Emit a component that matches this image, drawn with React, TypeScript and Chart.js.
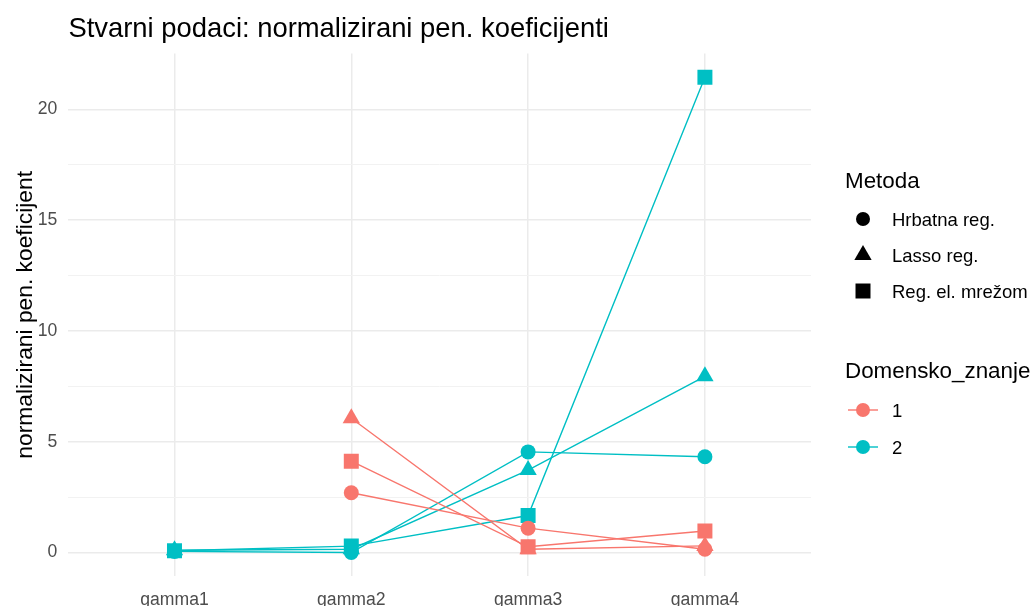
import React, { useEffect, useRef } from "react";
import { Chart, registerables } from "chart.js";

Chart.register(...registerables);

const categories = ["gamma1", "gamma2", "gamma3", "gamma4"];
const methodNames = ["Hrbatna reg.", "Lasso reg.", "Reg. el. mrežom"];
const domainNames = ["1", "2"];

const hrbatna1 = [null, 2.7, 1.1, 0.15];
const lasso1 = [null, 6.06, 0.15, 0.3];
const reg1 = [null, 4.12, 0.26, 0.97];
const hrbatna2 = [0.05, 0.0, 4.54, 4.32];
const lasso2 = [0.1, 0.15, 3.72, 7.95];
const reg2 = [0.08, 0.29, 1.67, 21.45];

const yTicks = [0, 5, 10, 15, 20];
const yMinorTicks = [2.5, 7.5, 12.5, 17.5];

const titleText = "Stvarni podaci: normalizirani pen. koeficijenti";
const yTitleText = "normalizirani pen. koeficijent";
const legendTitle1 = "Metoda";
const legendTitle2 = "Domensko_znanje";

const RED = "#F8766D";
const TEAL = "#00BFC4";
const FONT = "'Liberation Sans', Arial, sans-serif";

const pointStyles = ["circle", "triangle", "rect"];
const pointRadii = [7.5, 10, 10.6];

function drawShape(ctx: CanvasRenderingContext2D, style: string, x: number, y: number, r: number) {
  ctx.beginPath();
  if (style === "circle") {
    ctx.arc(x, y, r, 0, Math.PI * 2);
  } else if (style === "triangle") {
    ctx.moveTo(x, y - r);
    ctx.lineTo(x + r * Math.sin((2 * Math.PI) / 3), y - r * Math.cos((2 * Math.PI) / 3));
    ctx.lineTo(x + r * Math.sin((4 * Math.PI) / 3), y - r * Math.cos((4 * Math.PI) / 3));
    ctx.closePath();
  } else {
    const s = r * Math.SQRT1_2;
    ctx.rect(x - s, y - s, 2 * s, 2 * s);
  }
  ctx.fill();
}

const decorPlugin = {
  id: "decor",
  afterDraw(chart: any) {
    const ctx = chart.ctx as CanvasRenderingContext2D;
    const area = chart.chartArea;
    ctx.save();
    // Title
    ctx.fillStyle = "#000000";
    ctx.font = `27.4px ${FONT}`;
    ctx.textAlign = "left";
    ctx.textBaseline = "alphabetic";
    ctx.fillText(titleText, area.left, 37);

    // Y axis title
    ctx.save();
    ctx.translate(32, (area.top + area.bottom) / 2);
    ctx.rotate(-Math.PI / 2);
    ctx.font = `22.8px ${FONT}`;
    ctx.textAlign = "center";
    ctx.fillText(yTitleText, 0, 0);
    ctx.restore();

    // Legend 1: Metoda
    ctx.font = `22.4px ${FONT}`;
    ctx.textAlign = "left";
    ctx.fillStyle = "#000000";
    ctx.fillText(legendTitle1, 845, 188);
    const itemYs = [219, 255, 291];
    const legendRadii = [7, 10, 10.6];
    methodNames.forEach((name, i) => {
      ctx.fillStyle = "#000000";
      drawShape(ctx, pointStyles[i], 863, itemYs[i], legendRadii[i]);
      ctx.font = `18.5px ${FONT}`;
      ctx.textBaseline = "middle";
      ctx.fillStyle = "#000000";
      ctx.fillText(name, 892, itemYs[i] + 2);
      ctx.textBaseline = "alphabetic";
    });

    // Legend 2: Domensko_znanje
    ctx.font = `22.4px ${FONT}`;
    ctx.fillStyle = "#000000";
    ctx.fillText(legendTitle2, 845, 378);
    const dYs = [410, 447];
    const dColors = [RED, TEAL];
    domainNames.forEach((name, i) => {
      ctx.strokeStyle = dColors[i];
      ctx.lineWidth = 1.4;
      ctx.beginPath();
      ctx.moveTo(848, dYs[i]);
      ctx.lineTo(878, dYs[i]);
      ctx.stroke();
      ctx.fillStyle = dColors[i];
      drawShape(ctx, "circle", 863, dYs[i], 7);
      ctx.font = `18.5px ${FONT}`;
      ctx.textBaseline = "middle";
      ctx.fillStyle = "#000000";
      ctx.fillText(name, 892, dYs[i] + 2);
      ctx.textBaseline = "alphabetic";
    });
    ctx.restore();
  },
};

function toPoints(values: (number | null)[]) {
  return values.map((v, i) => ({ x: i, y: v }));
}

export default function App() {
  const canvasRef = useRef<HTMLCanvasElement | null>(null);

  useEffect(() => {
    document.body.style.margin = "0";
    const canvas = canvasRef.current;
    if (!canvas) return;

    const series = [
      { values: hrbatna1, color: RED, m: 0 },
      { values: lasso1, color: RED, m: 1 },
      { values: reg1, color: RED, m: 2 },
      { values: hrbatna2, color: TEAL, m: 0 },
      { values: lasso2, color: TEAL, m: 1 },
      { values: reg2, color: TEAL, m: 2 },
    ];

    const lineSets = series.map((s) => ({
      type: "line" as const,
      data: toPoints(s.values),
      borderColor: s.color,
      borderWidth: 1.4,
      pointRadius: 0,
      fill: false,
      spanGaps: false,
      order: 2,
    }));
    const pointSets = series.map((s) => ({
      type: "line" as const,
      data: toPoints(s.values),
      showLine: false,
      pointStyle: pointStyles[s.m],
      pointRadius: pointRadii[s.m],
      pointBackgroundColor: s.color,
      pointBorderColor: s.color,
      pointBorderWidth: 0,
      order: 1,
    }));

    const yMax = 21.45;
    const yMin = 0;
    const pad = (yMax - yMin) * 0.05;
    const allYTicks = [...yTicks, ...yMinorTicks].sort((a, b) => a - b);

    const chart = new Chart(canvas, {
      type: "line",
      data: { datasets: [...lineSets, ...pointSets] as any },
      plugins: [decorPlugin],
      options: {
        responsive: false,
        animation: false,
        layout: { padding: { top: 53.4, right: 1034 - 811, left: 0, bottom: 0 } },
        plugins: { legend: { display: false }, tooltip: { enabled: false }, title: { display: false } },
        scales: {
          x: {
            type: "linear",
            min: -0.6,
            max: 3.6,
            border: { display: false },
            afterFit: (scale: any) => {
              scale.height = 606 - 576.3;
            },
            afterBuildTicks: (scale: any) => {
              scale.ticks = categories.map((_, i) => ({ value: i }));
            },
            ticks: {
              padding: 13,
              color: "#4D4D4D",
              font: { family: FONT, size: 17.6 },
              callback: (v: any) => categories[Math.round(Number(v))] ?? "",
              maxRotation: 0,
              autoSkip: false,
            },
            grid: { color: "#EBEBEB", lineWidth: 1.5, drawTicks: false },
          },
          y: {
            type: "linear",
            min: yMin - pad,
            max: yMax + pad,
            border: { display: false },
            afterFit: (scale: any) => {
              scale.width = 68.4;
            },
            afterBuildTicks: (scale: any) => {
              scale.ticks = allYTicks.map((v) => ({ value: v }));
            },
            ticks: {
              padding: 11,
              color: "#4D4D4D",
              font: { family: FONT, size: 17.6 },
              autoSkip: false,
              callback: (v: any) => (yTicks.includes(Number(v)) ? String(v) : ""),
            },
            grid: {
              drawTicks: false,
              color: (c: any) => (c.tick && yTicks.includes(c.tick.value) ? "#EBEBEB" : "#F2F2F2"),
              lineWidth: (c: any) => (c.tick && yTicks.includes(c.tick.value) ? 1.5 : 1),
            },
          },
        },
      },
    });

    return () => chart.destroy();
  }, []);

  return (
    <div style={{ width: 1034, height: 606, background: "#ffffff" }}>
      <canvas ref={canvasRef} width={1034} height={606} style={{ display: "block" }} />
    </div>
  );
}
